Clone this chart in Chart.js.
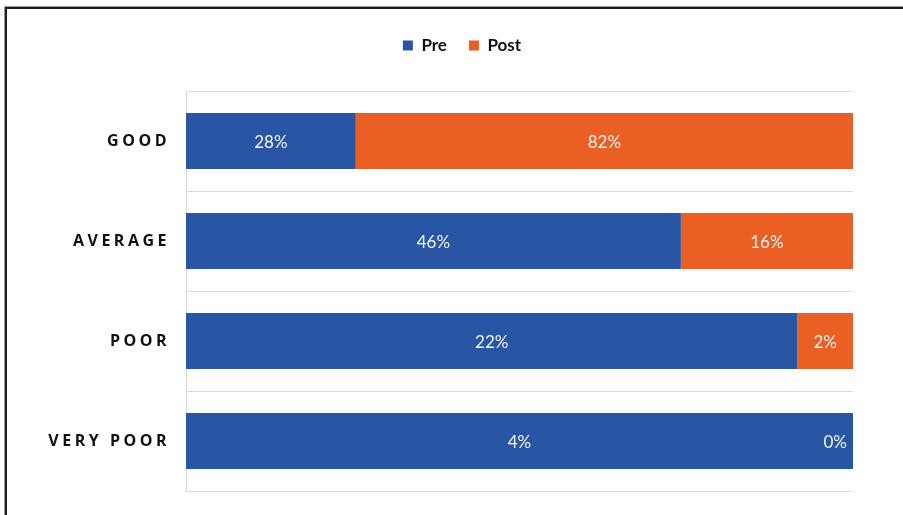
<!DOCTYPE html>
<html>
<head>
<meta charset="utf-8">
<script src="https://cdn.jsdelivr.net/npm/chart.js@4.4.1/dist/chart.umd.min.js"></script>
<style>
  html, body { margin: 0; padding: 0; background: #ffffff; overflow: hidden; }
  body { width: 903px; height: 515px; position: relative; }
  #frame {
    position: absolute; left: 5px; top: 7px; width: 1000px; height: 600px;
    border-top: 2px solid #1e1e1e; border-left: 2px solid #1e1e1e;
    box-shadow: -1px -1px 0 #9a9a9a;
  }
  #wrap { position: absolute; left: 7px; top: 9px; width: 910px; height: 506px; }
</style>
</head>
<body>
<div id="frame"></div>
<div id="wrap"><canvas id="chart" width="910" height="506"></canvas></div>
<script>
// Survey ratings, before and after (percent of respondents)
const categories = ['GOOD', 'AVERAGE', 'POOR', 'VERY POOR'];
const preValues  = [28, 46, 22, 4];
const postValues = [82, 16, 2, 0];

const seriesNames  = ['Pre', 'Post'];
const seriesColors = ['#2955A5', '#E95F24'];

// Each row is shown as a 100% stacked bar: the share of each series in the row total
function shares(values) {
  return values.map((v, i) => {
    const total = preValues[i] + postValues[i];
    return total ? (v / total) * 100 : 0;
  });
}

const rawBySeries = [preValues, postValues];

const valueLabels = {
  id: 'valueLabels',
  afterDatasetsDraw(chart) {
    const ctx = chart.ctx;
    ctx.save();
    ctx.font = '17px Lato, "Open Sans", sans-serif';
    ctx.fillStyle = '#f4f4f4';
    ctx.textBaseline = 'middle';
    chart.data.datasets.forEach((ds, di) => {
      const meta = chart.getDatasetMeta(di);
      meta.data.forEach((bar, i) => {
        const text = rawBySeries[di][i] + '%';
        const left = Math.min(bar.x, bar.base);
        const right = Math.max(bar.x, bar.base);
        const y = bar.y + 2;
        if (right - left < 1) {
          ctx.textAlign = 'right';
          ctx.fillText(text, right - 6, y);
        } else {
          ctx.textAlign = 'center';
          ctx.fillText(text, (left + right) / 2, y);
        }
      });
    });
    ctx.restore();
  }
};

const categoryLabels = {
  id: 'categoryLabels',
  afterDraw(chart) {
    const ctx = chart.ctx;
    const yScale = chart.scales.y;
    ctx.save();
    ctx.font = 'bold 16px "Open Sans", sans-serif';
    ctx.fillStyle = '#111111';
    ctx.textBaseline = 'middle';
    ctx.textAlign = 'right';
    if ('letterSpacing' in ctx) ctx.letterSpacing = '3.5px';
    categories.forEach((c, i) => {
      ctx.fillText(c, chart.chartArea.left - 16, yScale.getPixelForValue(i));
    });
    ctx.restore();
  }
};

// Fixed legend band height so the plot starts lower
const legendHeight = {
  id: 'legendHeight',
  beforeInit(chart) {
    const fit = chart.legend.fit;
    chart.legend.fit = function () {
      fit.call(this);
      this.height = 76;
    };
  }
};

new Chart(document.getElementById('chart'), {
  type: 'bar',
  data: {
    labels: categories,
    datasets: rawBySeries.map((vals, i) => ({
      label: seriesNames[i],
      data: shares(vals),
      backgroundColor: seriesColors[i],
      borderWidth: 0,
      categoryPercentage: 1,
      barPercentage: 0.56
    }))
  },
  options: {
    indexAxis: 'y',
    responsive: false,
    animation: false,
    devicePixelRatio: 1,
    layout: { padding: { left: 0, right: 0, top: 6, bottom: 24 } },
    scales: {
      x: {
        stacked: true, min: 0, max: 100,
        display: false
      },
      y: {
        stacked: true,
        ticks: { display: false },
        grid: { color: '#d9d9d9', lineWidth: 1, drawTicks: false },
        border: { display: true, color: '#d9d9d9', width: 1 },
        afterFit(scale) { scale.width = 179; }
      },
      // empty right-hand margin axis
      yRight: {
        type: 'category',
        position: 'right',
        ticks: { display: false },
        grid: { display: false, drawTicks: false },
        border: { display: false },
        afterFit(scale) { scale.width = 64; }
      }
    },
    plugins: {
      legend: {
        position: 'top',
        labels: {
          boxWidth: 10, boxHeight: 10,
          padding: 22,
          color: '#111111',
          font: { family: 'Lato, "Open Sans", sans-serif', size: 17, weight: 'bold' }
        }
      },
      tooltip: { enabled: false }
    }
  },
  plugins: [legendHeight, valueLabels, categoryLabels]
});
</script>
</body>
</html>
